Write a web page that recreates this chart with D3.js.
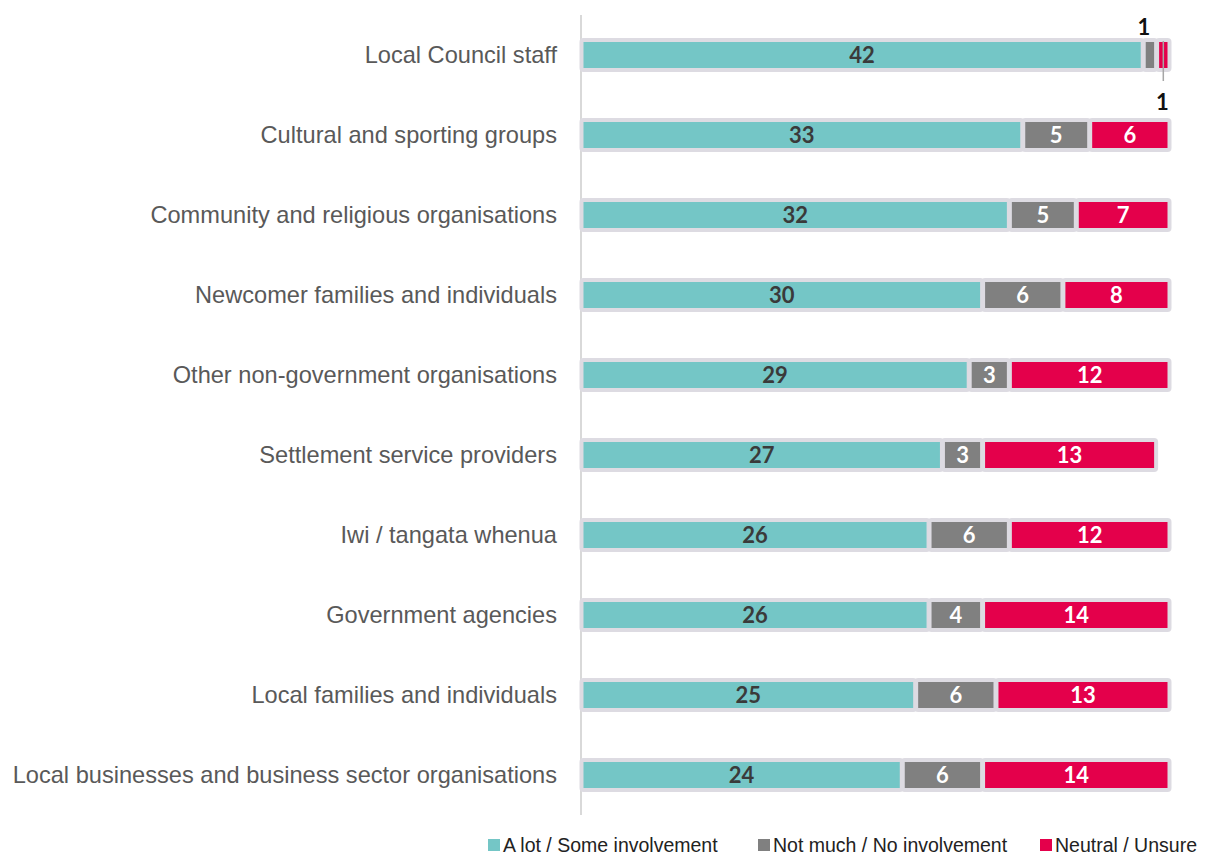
<!DOCTYPE html>
<html><head><meta charset="utf-8">
<script src="https://cdn.jsdelivr.net/npm/d3@7"></script>
<style>body{margin:0;background:#fff;}</style>
</head><body>
<svg id="chart" width="1208" height="855"></svg>
<script>
const categories = [
  "Local Council staff",
  "Cultural and sporting groups",
  "Community and religious organisations",
  "Newcomer families and individuals",
  "Other non-government organisations",
  "Settlement service providers",
  "Iwi / tangata whenua",
  "Government agencies",
  "Local families and individuals",
  "Local businesses and business sector organisations"
];
const seriesNames = ["A lot / Some involvement", "Not much / No involvement", "Neutral / Unsure"];
const aLot    = [42, 33, 32, 30, 29, 27, 26, 26, 25, 24];
const notMuch = [1, 5, 5, 6, 3, 3, 6, 4, 6, 6];
const neutral = [1, 6, 7, 8, 12, 13, 12, 14, 13, 14];
const colors = ["#74C6C6", "#808080", "#E4004B"];
const labelColors = ["#3a3a3a", "#ffffff", "#ffffff"];

const svg = d3.select("#chart");
const x = d3.scaleLinear().domain([0, 44]).range([581, 1170]);
const y = d3.scaleBand().domain(categories).range([15, 815]);

const rows = categories.map((c, i) => ({cat: c, vals: [aLot[i], notMuch[i], neutral[i]]}));

// axis line
svg.append("line").attr("x1", 581).attr("x2", 581).attr("y1", 15).attr("y2", 815)
  .attr("stroke", "#d9d9d9").attr("stroke-width", 2);

// category labels
svg.append("g").selectAll("text").data(categories).join("text")
  .attr("x", 557).attr("y", d => y(d) + y.bandwidth() / 2)
  .attr("text-anchor", "end").attr("dominant-baseline", "central")
  .attr("font-family", "Liberation Sans, Arial, sans-serif").attr("font-size", 23.6)
  .attr("fill", "#595959").text(d => d);

const segs = [];
rows.forEach((r, i) => {
  let acc = 0;
  r.vals.forEach((v, k) => {
    segs.push({cat: r.cat, row: i, k, v, x0: acc, x1: acc + v});
    acc += v;
  });
});

const h = 26;
svg.append("g").selectAll("rect").data(segs).join("rect")
  .attr("x", d => x(d.x0) + 2.5)
  .attr("width", d => x(d.x1) - x(d.x0) - 5)
  .attr("y", d => y(d.cat) + y.bandwidth() / 2 - h / 2)
  .attr("height", h)
  .attr("fill", d => colors[d.k])
  .attr("stroke", "#dddbe2").attr("stroke-width", 8)
  .attr("stroke-linejoin", "round")
  .style("paint-order", "stroke");

// value labels inside (skip tiny)
svg.append("g").selectAll("text").data(segs.filter(d => d.v > 1)).join("text")
  .attr("x", d => (x(d.x0) + x(d.x1)) / 2)
  .attr("y", d => y(d.cat) + y.bandwidth() / 2 - 1)
  .attr("text-anchor", "middle").attr("dominant-baseline", "central")
  .attr("font-family", "Lato, sans-serif").attr("font-weight", 700).attr("font-size", 22)
  .attr("fill", d => labelColors[d.k]).text(d => d.v);

// tiny labels for the first row
const small = segs.filter(d => d.v <= 1);
small.forEach(d => {
  const cx = (x(d.x0) + x(d.x1)) / 2;
  const cy = y(d.cat) + y.bandwidth() / 2;
  if (d.k === 1) {
    svg.append("text").attr("x", cx - 6).attr("y", cy - 29)
      .attr("text-anchor", "middle").attr("dominant-baseline", "central")
      .attr("font-family", "Lato, sans-serif").attr("font-weight", 700).attr("font-size", 22)
      .attr("fill", "#111").text(d.v);
  } else {
    svg.append("line").attr("x1", cx).attr("x2", cx).attr("y1", cy - 14).attr("y2", cy + 26)
      .attr("stroke", "#a6a6a6").attr("stroke-width", 1.5);
    svg.append("text").attr("x", cx - 1).attr("y", cy + 46)
      .attr("text-anchor", "middle").attr("dominant-baseline", "central")
      .attr("font-family", "Lato, sans-serif").attr("font-weight", 700).attr("font-size", 22)
      .attr("fill", "#111").text(d.v);
  }
});

// legend
const legendX = [488, 758, 1040];
const lg = svg.append("g").selectAll("g").data(seriesNames).join("g")
  .attr("transform", (d, i) => `translate(${legendX[i]},845)`);
lg.append("rect").attr("x", 0).attr("y", -6).attr("width", 12).attr("height", 12)
  .attr("fill", (d, i) => colors[i]);
lg.append("text").attr("x", 15).attr("y", 0).attr("dominant-baseline", "central")
  .attr("font-family", "Liberation Sans, Arial, sans-serif").attr("font-size", 19.5)
  .attr("fill", "#222").text(d => d);
</script>
</body></html>
